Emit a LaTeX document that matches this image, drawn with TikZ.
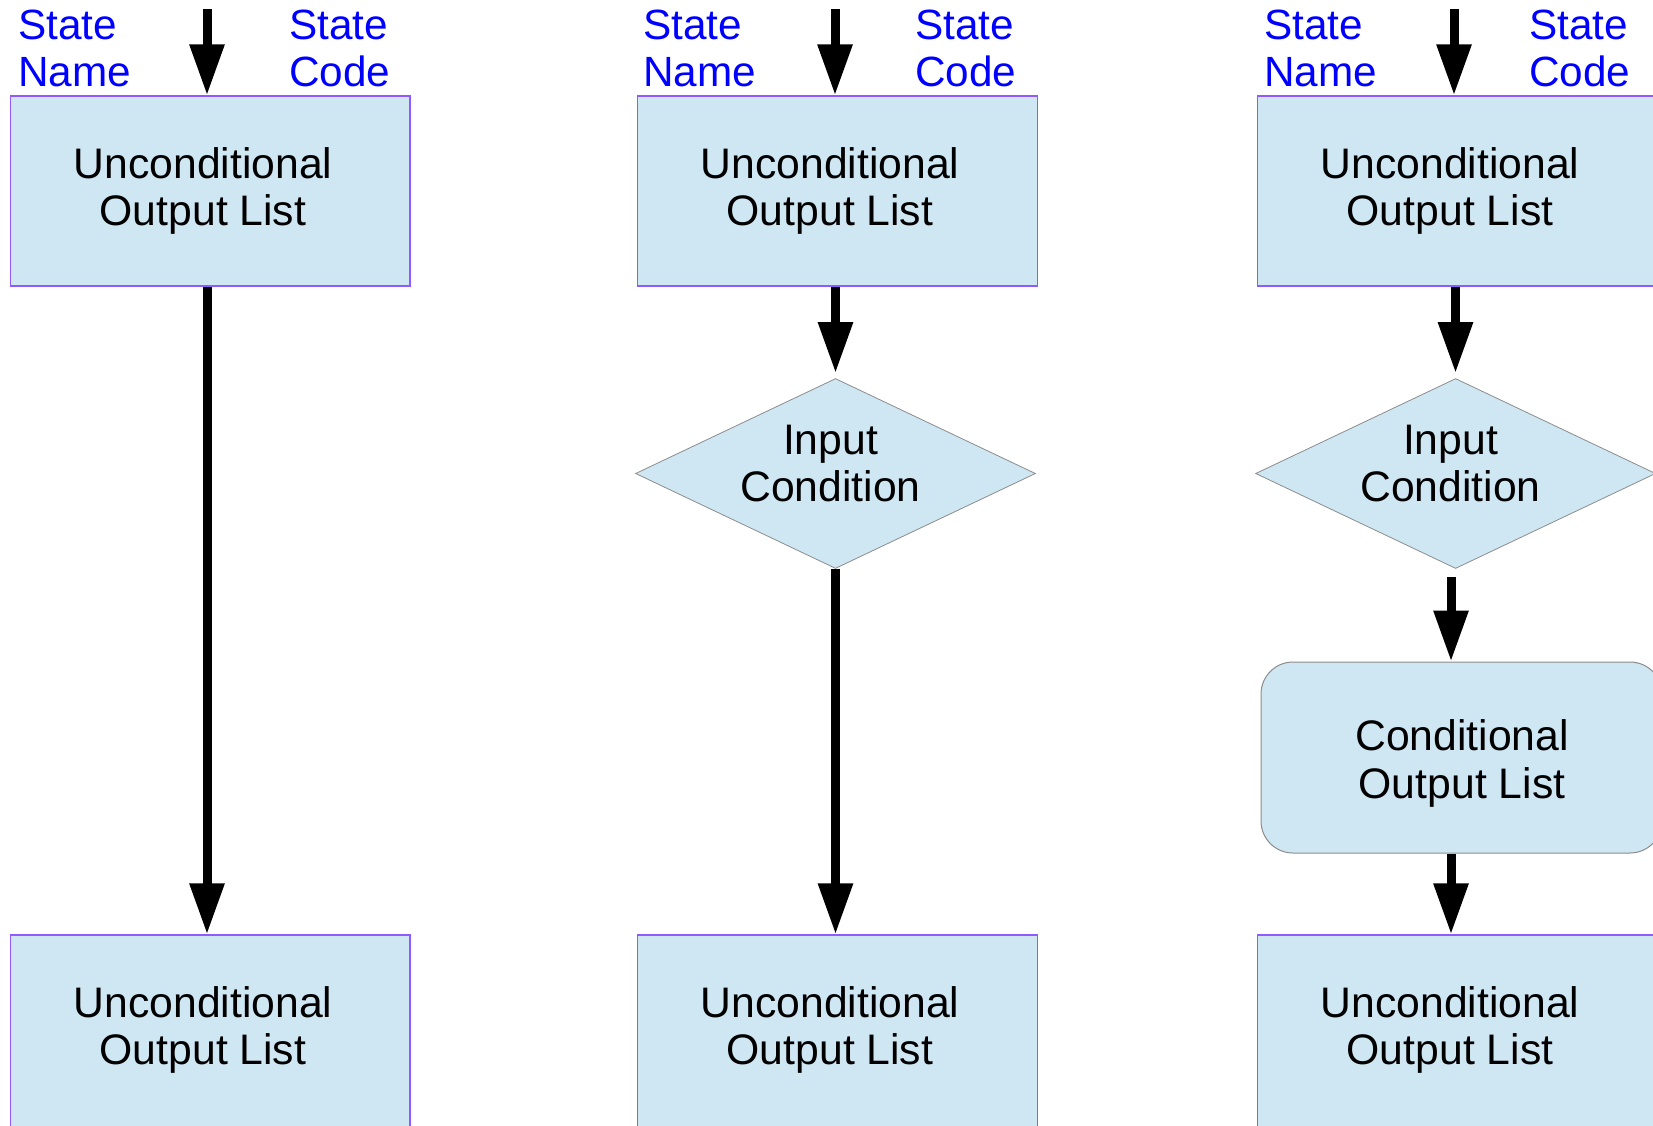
\documentclass[tikz,border=0pt]{standalone}
\usepackage{fontspec}
\setmainfont{Liberation Sans}
\usetikzlibrary{arrows.meta,shapes.geometric}

\definecolor{boxfill}{RGB}{207,230,243}
\definecolor{boxedge}{RGB}{145,90,255}
\definecolor{shapeedge}{RGB}{140,140,140}
\definecolor{labelblue}{RGB}{0,0,255}

\begin{document}
\begin{tikzpicture}[
  x=1pt, y=-1pt,
  ubox/.style={draw=boxedge, line width=1.3pt, fill=boxfill,
    minimum width=399.5pt, minimum height=190pt, inner sep=0pt},
  cbox/.style={draw=shapeedge, line width=1pt, fill=boxfill,
    rounded corners=32pt, minimum width=401pt, minimum height=191pt, inner sep=0pt},
  condbox/.style={diamond, draw=shapeedge, line width=0.8pt, fill=boxfill,
    minimum width=400pt, minimum height=190pt, inner sep=0pt},
  % text nodes are placed by the baseline of their last line
  txt/.style={font=\fontsize{42.7}{47.4}\selectfont, align=center, inner sep=0pt, anchor=base},
  lab/.style={font=\fontsize{42.3}{46.7}\selectfont, text=labelblue, align=left,
    inner sep=0pt, anchor=base west},
  arr/.style={line width=9pt, -{Triangle[length=51pt,width=33pt]}}
]
\clip (0,0) rectangle (1653,1125);

% state boxes
\node[ubox] (u1) at (210.35,191) {};
\node[ubox] (u2) at (837.5,191) {};
\node[ubox] (u3) at (1457,191) {};
\node[ubox, minimum height=196pt] (b1) at (210.35,1033) {};
\node[ubox, minimum height=196pt] (b2) at (837.5,1033) {};
\node[ubox, minimum height=196pt] (b3) at (1457,1033) {};

% decisions and conditional output
\node[condbox] (d2) at (835.5,473.5) {};
\node[condbox] (d3) at (1455.6,473.5) {};
\node[cbox] (c3) at (1461.5,757.5) {};

% box texts
\node[txt] (u1t) at (203,225.7) {Unconditional\\Output List};
\node[txt] (u2t) at (830,225.7) {Unconditional\\Output List};
\node[txt] (u3t) at (1450,225.7) {Unconditional\\Output List};
\node[txt] (b1t) at (203,1064.7) {Unconditional\\Output List};
\node[txt] (b2t) at (830,1064.7) {Unconditional\\Output List};
\node[txt] (b3t) at (1450,1064.7) {Unconditional\\Output List};
\node[txt] (d2t) at (830.5,501.7) {Input\\Condition};
\node[txt] (d3t) at (1450.5,501.7) {Input\\Condition};
\node[txt] (c3t) at (1462,798) {Conditional\\Output List};

% state name / code labels
\node[lab] (n1) at (18,86) {State\\Name};
\node[lab] (k1) at (289,86) {State\\Code};
\node[lab] (n2) at (643,86) {State\\Name};
\node[lab] (k2) at (915,86) {State\\Code};
\node[lab] (n3) at (1264,86) {State\\Name};
\node[lab] (k3) at (1529,86) {State\\Code};

% entry points
\coordinate (e1) at (207,9);
\coordinate (e2) at (835,9);
\coordinate (e3) at (1454,9);
\coordinate (a2) at (835.5,0);
\coordinate (a3) at (1455.5,0);
\coordinate (f3) at (1451,0);

% connectors
\draw[arr] (e1) -- (e1 |- u1.north);
\draw[arr] (e2) -- (e2 |- u2.north);
\draw[arr] (e3) -- (e3 |- u3.north);

\draw[arr] (u1.south -| e1) -- (b1.north -| e1);

\draw[arr, shorten >=5pt] (u2.south -| a2) -- (d2.north -| a2);
\draw[arr] (d2.south -| a2) -- (b2.north -| a2);

\draw[arr, shorten >=5pt] (u3.south -| a3) -- (d3.north -| a3);
\draw[arr, shorten <=8pt] (d3.south -| f3) -- (c3.north -| f3);
\draw[arr] (c3.south -| f3) -- (b3.north -| f3);
\end{tikzpicture}
\end{document}
